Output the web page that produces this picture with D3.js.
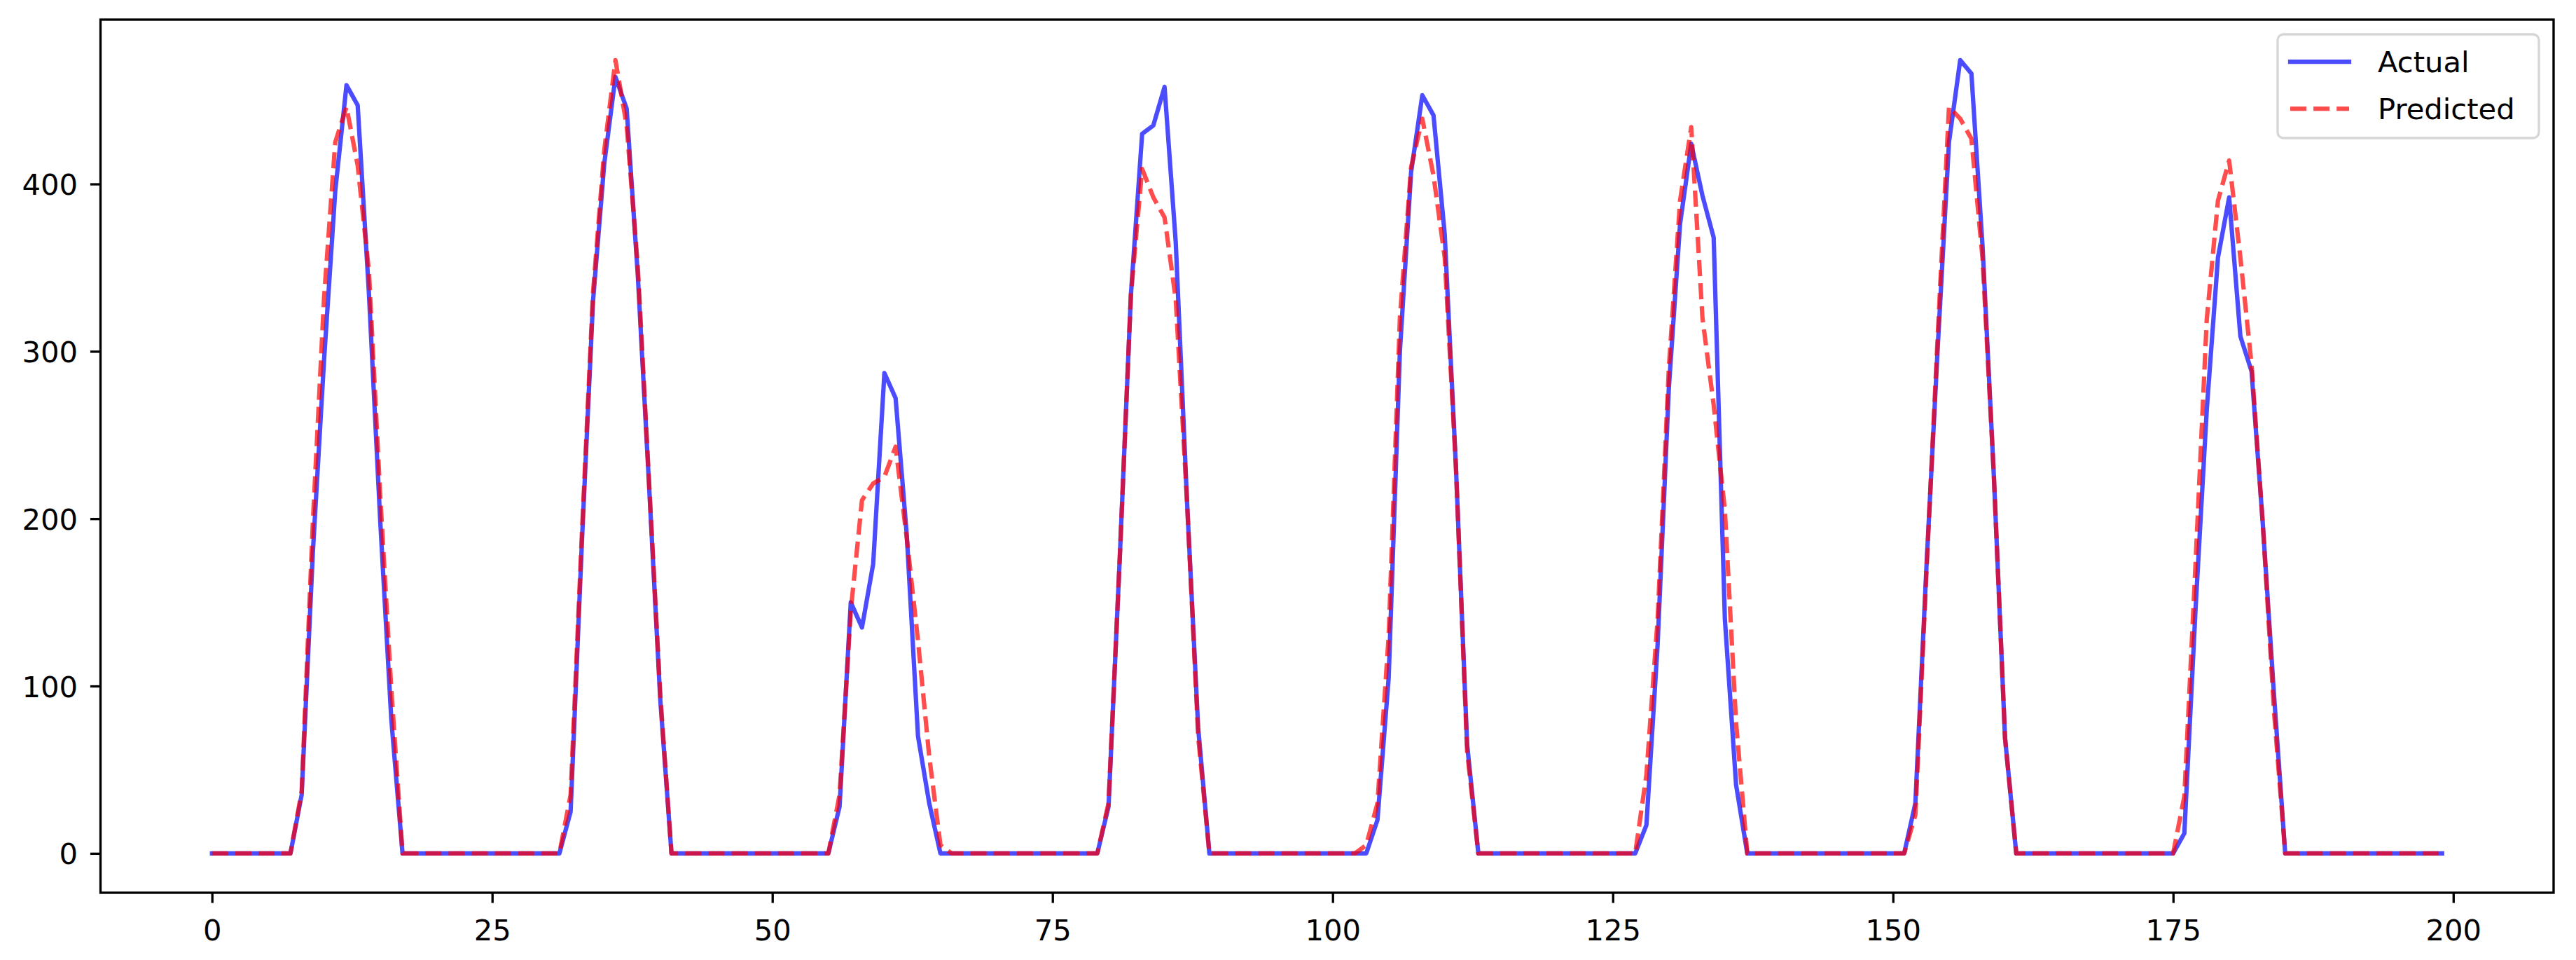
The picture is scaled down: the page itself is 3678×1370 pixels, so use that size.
<!DOCTYPE html>
<html>
<head>
<meta charset="utf-8">
<script src="https://cdn.jsdelivr.net/npm/d3@7/dist/d3.min.js"></script>
<style>
  html, body { margin: 0; padding: 0; background: #ffffff; }
  svg { display: block; }
</style>
</head>
<body>
<svg id="chart" width="3678" height="1370"></svg>
<script>
// ---- data (hourly index 0..199) ----
const actual = [
  0,0,0,0,0,0,0,0,35,180,295,396,459,447,335,200,80,0,0,0,0,0,0,0,
  0,0,0,0,0,0,0,0,25,185,330,412,464,445,345,220,92,0,0,0,0,0,0,0,
  0,0,0,0,0,0,0,0,28,150,135,173,287,272,190,70,30,0,0,0,0,0,0,0,
  0,0,0,0,0,0,0,0,28,176,334,430,435,458,365,211,75,0,0,0,0,0,0,0,
  0,0,0,0,0,0,0,0,20,105,300,407,453,441,370,231,65,0,0,0,0,0,0,0,
  0,0,0,0,0,0,0,0,17,125,278,376,424,393,368,140,41,0,0,0,0,0,0,0,
  0,0,0,0,0,0,0,0,30,173,303,425,474,466,362,226,69,0,0,0,0,0,0,0,
  0,0,0,0,0,0,0,0,12,146,265,356,392,309,288,197,95,0,0,0,0,0,0,0,
  0,0,0,0,0,0,0,0
];
const predicted = [
  0,0,0,0,0,0,0,0,37,198,332,425,446,411,348,215,98,0,0,0,0,0,0,0,
  0,0,0,0,0,0,0,0,35,190,335,420,474,435,350,222,95,0,0,0,0,0,0,0,
  0,0,0,0,0,0,0,0,35,145,211,221,225,243,188,127,58,5,0,0,0,0,0,0,
  0,0,0,0,0,0,0,0,30,176,334,409,392,380,331,211,70,0,0,0,0,0,0,0,
  0,0,0,0,0,0,0,5,30,130,320,410,439,405,356,231,61,0,0,0,0,0,0,0,
  0,0,0,0,0,0,0,0,47,140,290,390,434,320,268,205,78,0,0,0,0,0,0,0,
  0,0,0,0,0,0,0,0,23,170,310,446,439,427,355,226,69,0,0,0,0,0,0,0,
  0,0,0,0,0,0,0,0,34,173,319,390,414,356,292,197,85,0,0,0,0,0,0,0,
  0,0,0,0,0,0,0,0
];
const xTicks = [0, 25, 50, 75, 100, 125, 150, 175, 200];
const yTicks = [0, 100, 200, 300, 400];
const seriesNames = ["Actual", "Predicted"];

(function () {
  // ---- layout ----
  const FS = 41.7;           // font size (10pt @ 300dpi)
  const LW = 6.25;           // line width (1.5pt)
  const SW = 3.33;           // spine width (0.8pt)
  const TL = 14.6;           // tick length
  const pL = 143.5, pR = 3646, pT = 28, pB = 1274;
  const font = "'DejaVu Sans', 'Liberation Sans', sans-serif";

  const svg = d3.select("#chart");
  svg.append("rect").attr("width", 3678).attr("height", 1370).attr("fill", "#ffffff");

  const n = actual.length;
  const x = d3.scaleLinear().domain([-9.95, 208.95]).range([pL, pR]);
  const y = d3.scaleLinear().domain([-23.5, 498.2]).range([pB, pT]);

  const idx = d3.range(n);
  const line = (arr) => d3.line().x(i => x(i)).y(i => y(arr[i]))(idx);

  svg.append("clipPath").attr("id", "plotclip")
    .append("rect").attr("x", pL).attr("y", pT).attr("width", pR - pL).attr("height", pB - pT);

  const plot = svg.append("g").attr("clip-path", "url(#plotclip)");
  plot.append("path")
    .attr("d", line(actual))
    .attr("fill", "none")
    .attr("stroke", "#0000ff")
    .attr("stroke-opacity", 0.7)
    .attr("stroke-width", LW)
    .attr("stroke-linejoin", "round")
    .attr("stroke-linecap", "square");
  plot.append("path")
    .attr("d", line(predicted))
    .attr("fill", "none")
    .attr("stroke", "#ff0000")
    .attr("stroke-opacity", 0.7)
    .attr("stroke-width", LW)
    .attr("stroke-dasharray", "23.1,10")
    .attr("stroke-linejoin", "round")
    .attr("stroke-linecap", "butt");

  // ---- axes ----
  const xAxis = d3.axisBottom(x).tickValues(xTicks).tickSize(TL).tickPadding(14.6).tickFormat(d3.format("d"));
  const gx = svg.append("g").attr("transform", `translate(0,${pB})`).call(xAxis);
  gx.select(".domain").remove();
  gx.selectAll(".tick line").attr("stroke", "#000").attr("stroke-width", SW);
  gx.selectAll(".tick text")
    .attr("y", 68).attr("dy", null)
    .attr("fill", "#000").attr("font-family", font).attr("font-size", FS);

  const yAxis = d3.axisLeft(y).tickValues(yTicks).tickSize(TL).tickPadding(18).tickFormat(d3.format("d"));
  const gy = svg.append("g").attr("transform", `translate(${pL},0)`).call(yAxis);
  gy.select(".domain").remove();
  gy.selectAll(".tick line").attr("stroke", "#000").attr("stroke-width", SW);
  gy.selectAll(".tick text")
    .attr("x", -32.5).attr("dy", "0.36em")
    .attr("fill", "#000").attr("font-family", font).attr("font-size", FS);

  // spines
  svg.append("rect")
    .attr("x", pL).attr("y", pT)
    .attr("width", pR - pL).attr("height", pB - pT)
    .attr("fill", "none").attr("stroke", "#000").attr("stroke-width", SW)
    .attr("stroke-linejoin", "miter");

  // ---- legend ----
  const lg = svg.append("g");
  const lx0 = 3252, ly0 = 49, lw = 373, lh = 148;
  lg.append("rect")
    .attr("x", lx0).attr("y", ly0).attr("width", lw).attr("height", lh)
    .attr("rx", 8.3).attr("ry", 8.3)
    .attr("fill", "#ffffff").attr("fill-opacity", 0.8)
    .attr("stroke", "#cccccc").attr("stroke-opacity", 0.8).attr("stroke-width", SW);

  const rows = [
    { name: seriesNames[0], color: "#0000ff", dash: null, cy: 88 },
    { name: seriesNames[1], color: "#ff0000", dash: "23.1,10", cy: 155 }
  ];
  rows.forEach(r => {
    lg.append("line")
      .attr("x1", 3270).attr("x2", 3354)
      .attr("y1", r.cy).attr("y2", r.cy)
      .attr("stroke", r.color).attr("stroke-opacity", 0.7)
      .attr("stroke-width", LW)
      .attr("stroke-dasharray", r.dash)
      .attr("stroke-linecap", r.dash ? "butt" : "square");
    lg.append("text")
      .attr("x", 3395).attr("y", r.cy + 15)
      .attr("fill", "#000").attr("font-family", font).attr("font-size", FS)
      .text(r.name);
  });
})();
</script>
</body>
</html>
